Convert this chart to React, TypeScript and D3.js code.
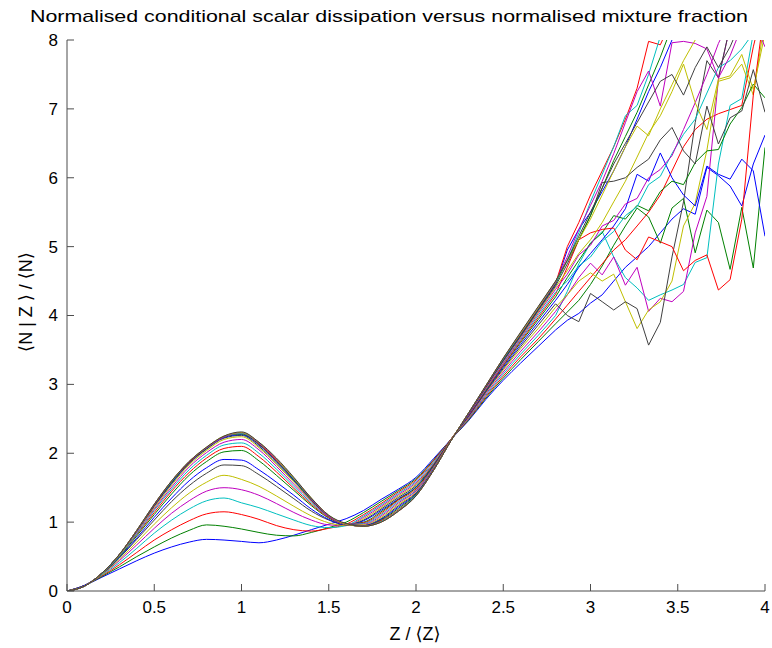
import React from "react";
import * as d3 from "d3";

// Shared abscissa Z/<Z>
const xValues = [
  0, 0.1, 0.2, 0.3, 0.4, 0.5, 0.6, 0.7, 0.8, 0.9, 1.0, 1.1, 1.2, 1.3, 1.4, 1.5, 1.6, 1.7, 1.8, 1.9,
  2.0, 2.1, 2.2, 2.3, 2.4, 2.5, 2.6, 2.7, 2.8,
  2.867, 2.933, 3.0, 3.067, 3.133, 3.2, 3.267, 3.333, 3.4, 3.467, 3.533, 3.6, 3.667, 3.733, 3.8, 3.867, 3.933, 4.0,
];
// index of the last point of the smooth part (x = 2.8)
const smoothEnd = 28;

const s00 = [0, 0.08, 0.20, 0.32, 0.44, 0.55, 0.64, 0.71, 0.75, 0.74, 0.72, 0.70, 0.74, 0.81, 0.89, 0.97, 1.05, 1.17, 1.33, 1.48, 1.65, 1.92, 2.20, 2.47, 2.78, 3.06, 3.31, 3.55, 3.79,
  3.93, 4.03, 4.18, 4.30, 4.50, 4.70, 4.85, 5.00, 5.20, 5.40, 5.55, 5.47, 6.15, 6.03, 5.88, 5.59, 6.20, 6.62];
const s01 = [0, 0.08, 0.21, 0.35, 0.50, 0.64, 0.77, 0.88, 0.96, 0.94, 0.90, 0.85, 0.81, 0.80, 0.85, 0.92, 1.00, 1.14, 1.30, 1.46, 1.63, 1.90, 2.20, 2.48, 2.80, 3.09, 3.36, 3.62, 3.88,
  4.05, 4.22, 4.45, 4.72, 5.02, 5.30, 5.56, 5.43, 5.05, 5.56, 5.70, 4.91, 5.53, 5.35, 4.67, 5.57, 4.69, 6.44];
const s02 = [0, 0.08, 0.22, 0.38, 0.56, 0.74, 0.89, 1.02, 1.12, 1.15, 1.11, 1.04, 0.95, 0.89, 0.87, 0.91, 0.97, 1.11, 1.27, 1.44, 1.61, 1.89, 2.20, 2.49, 2.82, 3.12, 3.40, 3.66, 3.95,
  4.15, 4.35, 4.55, 4.75, 4.95, 5.10, 5.30, 5.50, 5.75, 6.10, 6.45, 6.70, 6.85, 6.93, 6.99, 7.05, 7.90, 8.60];
const s03 = [0, 0.08, 0.23, 0.41, 0.62, 0.84, 1.03, 1.19, 1.31, 1.35, 1.28, 1.21, 1.12, 1.03, 0.95, 0.92, 0.95, 1.09, 1.25, 1.42, 1.59, 1.87, 2.20, 2.50, 2.84, 3.15, 3.44, 3.71, 4.00,
  4.35, 4.75, 5.05, 5.22, 4.85, 4.55, 4.40, 4.22, 4.30, 4.37, 4.45, 4.77, 4.84, 6.20, 7.05, 7.15, 8.10, 8.50];
const s04 = [0, 0.08, 0.24, 0.44, 0.67, 0.91, 1.13, 1.31, 1.45, 1.50, 1.47, 1.39, 1.27, 1.14, 1.03, 0.96, 0.95, 1.07, 1.23, 1.40, 1.57, 1.85, 2.20, 2.51, 2.86, 3.18, 3.48, 3.76, 4.06,
  4.30, 4.55, 4.76, 4.59, 4.85, 4.44, 4.70, 4.06, 4.25, 4.20, 4.35, 5.20, 5.73, 7.43, 8.20, 8.50, 8.80, 9.00];
const s05 = [0, 0.08, 0.24, 0.46, 0.71, 0.97, 1.21, 1.42, 1.58, 1.68, 1.62, 1.52, 1.38, 1.23, 1.09, 0.99, 0.95, 1.05, 1.21, 1.38, 1.55, 1.84, 2.20, 2.52, 2.88, 3.21, 3.52, 3.81, 4.12,
  4.30, 4.50, 4.62, 4.50, 4.60, 4.20, 3.81, 4.08, 4.20, 4.50, 5.30, 5.63, 6.40, 7.40, 7.45, 7.65, 7.20, 8.30];
const s06 = [0, 0.08, 0.25, 0.48, 0.75, 1.03, 1.30, 1.53, 1.71, 1.83, 1.82, 1.69, 1.52, 1.34, 1.16, 1.03, 0.96, 1.03, 1.19, 1.36, 1.53, 1.83, 2.20, 2.53, 2.89, 3.23, 3.55, 3.86, 4.17,
  4.00, 3.91, 4.32, 4.20, 4.08, 4.20, 4.10, 3.57, 3.90, 4.85, 5.65, 6.80, 7.70, 7.45, 8.20, 8.50, 8.80, 9.10];
const s07 = [0, 0.08, 0.25, 0.49, 0.77, 1.07, 1.35, 1.60, 1.79, 1.91, 1.90, 1.76, 1.58, 1.39, 1.19, 1.04, 0.96, 1.02, 1.17, 1.34, 1.51, 1.82, 2.20, 2.54, 2.90, 3.25, 3.58, 3.90, 4.22,
  4.45, 4.70, 4.90, 5.10, 5.30, 5.55, 6.05, 5.95, 6.36, 6.00, 5.75, 5.59, 6.17, 6.05, 5.98, 6.27, 6.10, 5.15];
const s08 = [0, 0.07, 0.25, 0.50, 0.80, 1.11, 1.41, 1.68, 1.88, 2.02, 2.04, 1.89, 1.68, 1.46, 1.24, 1.06, 0.97, 1.00, 1.15, 1.33, 1.50, 1.81, 2.20, 2.55, 2.91, 3.27, 3.61, 3.94, 4.27,
  4.55, 4.80, 5.05, 5.20, 5.45, 5.40, 5.60, 5.52, 5.80, 5.95, 5.90, 6.22, 6.39, 6.41, 6.78, 7.02, 7.36, 7.16];
const s09 = [0, 0.07, 0.25, 0.51, 0.82, 1.14, 1.45, 1.72, 1.93, 2.07, 2.10, 1.95, 1.73, 1.49, 1.26, 1.07, 0.97, 0.99, 1.13, 1.32, 1.48, 1.80, 2.20, 2.55, 2.92, 3.28, 3.63, 3.97, 4.31,
  4.70, 5.10, 5.20, 5.25, 5.27, 4.95, 4.81, 5.14, 5.07, 5.00, 4.65, 4.80, 4.88, 4.37, 4.52, 5.40, 7.20, 8.50];
const s10 = [0, 0.07, 0.25, 0.51, 0.83, 1.17, 1.48, 1.76, 1.97, 2.12, 2.15, 2.00, 1.77, 1.52, 1.28, 1.08, 0.97, 0.98, 1.11, 1.30, 1.46, 1.79, 2.19, 2.56, 2.93, 3.30, 3.65, 4.00, 4.34,
  4.50, 4.72, 4.85, 5.08, 5.22, 5.45, 5.58, 5.90, 6.02, 6.35, 6.63, 6.85, 7.23, 7.60, 7.70, 7.87, 8.10, 8.40];
const s11 = [0, 0.07, 0.26, 0.52, 0.85, 1.19, 1.51, 1.80, 2.01, 2.16, 2.20, 2.05, 1.81, 1.55, 1.30, 1.08, 0.97, 0.97, 1.09, 1.28, 1.45, 1.78, 2.19, 2.56, 2.94, 3.31, 3.67, 4.03, 4.38,
  4.60, 4.88, 5.02, 5.30, 5.38, 5.62, 5.70, 6.00, 6.12, 6.32, 6.70, 7.09, 7.50, 7.95, 8.30, 8.60, 8.90, 9.20];
const s12 = [0, 0.07, 0.26, 0.52, 0.86, 1.21, 1.54, 1.83, 2.04, 2.20, 2.24, 2.08, 1.84, 1.58, 1.31, 1.09, 0.97, 0.96, 1.07, 1.26, 1.43, 1.77, 2.19, 2.57, 2.95, 3.33, 3.69, 4.05, 4.41,
  4.65, 4.90, 5.10, 5.35, 5.65, 5.95, 6.30, 6.65, 6.90, 7.25, 7.65, 7.09, 6.70, 7.43, 7.48, 7.79, 7.28, 8.10];
const s13 = [0, 0.07, 0.26, 0.53, 0.87, 1.23, 1.56, 1.85, 2.06, 2.22, 2.26, 2.10, 1.86, 1.60, 1.32, 1.09, 0.97, 0.95, 1.05, 1.24, 1.42, 1.76, 2.18, 2.57, 2.96, 3.34, 3.70, 4.07, 4.43,
  4.75, 5.10, 5.45, 5.93, 5.95, 6.00, 6.15, 6.27, 6.55, 6.73, 6.39, 6.20, 7.04, 6.49, 6.87, 6.97, 7.57, 6.95];
const s14 = [0, 0.07, 0.26, 0.53, 0.87, 1.24, 1.57, 1.86, 2.07, 2.23, 2.27, 2.12, 1.88, 1.61, 1.33, 1.09, 0.97, 0.95, 1.04, 1.22, 1.41, 1.76, 2.18, 2.57, 2.96, 3.35, 3.71, 4.08, 4.45,
  4.95, 5.25, 5.50, 5.80, 6.10, 6.45, 6.85, 7.25, 7.60, 8.00, 8.40, 8.80, 9.20, 9.60, 10.0, 10.4, 10.8, 11.2];
const s15 = [0, 0.07, 0.26, 0.53, 0.88, 1.25, 1.58, 1.87, 2.07, 2.24, 2.28, 2.13, 1.89, 1.62, 1.33, 1.09, 0.97, 0.94, 1.03, 1.20, 1.40, 1.75, 2.18, 2.58, 2.97, 3.36, 3.72, 4.09, 4.46,
  4.80, 5.10, 5.45, 5.85, 6.25, 6.60, 6.95, 7.35, 7.75, 8.20, 8.60, 9.00, 9.40, 9.80, 10.2, 10.6, 11.0, 11.4];
const s16 = [0, 0.07, 0.26, 0.53, 0.88, 1.25, 1.59, 1.87, 2.08, 2.24, 2.29, 2.14, 1.90, 1.63, 1.34, 1.09, 0.97, 0.94, 1.02, 1.18, 1.39, 1.75, 2.18, 2.58, 2.97, 3.37, 3.73, 4.10, 4.47,
  5.00, 5.35, 5.75, 6.10, 6.45, 6.85, 7.30, 7.98, 7.93, 8.30, 8.60, 8.90, 9.20, 9.50, 9.80, 10.1, 10.4, 10.7];
const s17 = [0, 0.07, 0.26, 0.53, 0.88, 1.26, 1.59, 1.88, 2.08, 2.24, 2.29, 2.15, 1.91, 1.63, 1.34, 1.09, 0.97, 0.94, 1.01, 1.17, 1.39, 1.75, 2.18, 2.58, 2.98, 3.37, 3.74, 4.11, 4.48,
  4.80, 5.20, 5.65, 6.05, 6.45, 6.90, 7.05, 7.50, 8.05, 8.40, 8.80, 9.20, 9.60, 10.0, 10.4, 10.8, 11.2, 11.6];
const s18 = [0, 0.07, 0.26, 0.53, 0.88, 1.26, 1.60, 1.88, 2.08, 2.24, 2.30, 2.15, 1.91, 1.64, 1.34, 1.09, 0.97, 0.94, 1.00, 1.16, 1.38, 1.75, 2.18, 2.58, 2.98, 3.38, 3.75, 4.12, 4.49,
  4.85, 5.25, 5.60, 5.95, 6.35, 6.80, 7.25, 7.55, 7.04, 7.96, 7.98, 7.95, 7.87, 7.45, 7.77, 8.20, 8.30, 7.90];
const s19 = [0, 0.07, 0.26, 0.53, 0.88, 1.26, 1.60, 1.88, 2.09, 2.25, 2.30, 2.16, 1.92, 1.64, 1.35, 1.10, 0.97, 0.94, 1.00, 1.16, 1.38, 1.75, 2.18, 2.58, 2.98, 3.38, 3.75, 4.12, 4.50,
  4.80, 5.10, 5.40, 5.75, 6.10, 6.45, 6.75, 6.61, 7.00, 7.35, 7.70, 8.00, 8.30, 8.60, 8.90, 9.20, 9.50, 9.80];
const s20 = [0, 0.07, 0.26, 0.53, 0.88, 1.26, 1.60, 1.88, 2.09, 2.25, 2.31, 2.16, 1.93, 1.65, 1.35, 1.10, 0.98, 0.94, 1.00, 1.16, 1.38, 1.75, 2.18, 2.58, 2.98, 3.38, 3.76, 4.13, 4.50,
  4.80, 5.15, 5.50, 5.85, 6.20, 6.50, 6.80, 7.10, 7.40, 7.50, 7.20, 7.60, 7.90, 7.60, 7.90, 8.30, 8.60, 8.90];

const seriesList = [s00, s01, s02, s03, s04, s05, s06, s07, s08, s09, s10, s11, s12, s13, s14, s15, s16, s17, s18, s19, s20];

// MATLAB default line colour cycle
const colorCycle = ["#0000FF", "#008000", "#FF0000", "#00BFBF", "#BF00BF", "#BFBF00", "#404040"];

const xTickValues = [0, 0.5, 1, 1.5, 2, 2.5, 3, 3.5, 4];
const yTickValues = [0, 1, 2, 3, 4, 5, 6, 7, 8];

const titleText = "Normalised conditional scalar dissipation versus normalised mixture fraction";
const xLabelText = "Z / \u27E8Z\u27E9";
const yLabelText = "\u27E8N | Z \u27E9 / \u27E8N\u27E9";

const W = 772;
const H = 648;
const plot = { left: 67, right: 765, top: 40, bottom: 591 };
const FONT = "'Liberation Sans', Arial, 'DejaVu Sans', sans-serif";

export default function App() {
  const x = d3.scaleLinear().domain([0, 4]).range([plot.left, plot.right]);
  const y = d3.scaleLinear().domain([0, 8]).range([plot.bottom, plot.top]);
  const smoothLine = d3
    .line<[number, number]>()
    .x((d) => x(d[0]))
    .y((d) => y(d[1]))
    .curve(d3.curveMonotoneX);
  const rawLine = d3
    .line<[number, number]>()
    .x((d) => x(d[0]))
    .y((d) => y(d[1]));
  const tickLen = 7;
  const axisColor = "#4d4d4d";

  return (
    <svg
      width={W}
      height={H}
      style={{ position: "absolute", left: 0, top: 0, background: "#fff" }}
      xmlns="http://www.w3.org/2000/svg"
    >
      <rect x={0} y={0} width={W} height={H} fill="#fff" />
      <defs>
        <clipPath id="plotClip">
          <rect x={plot.left} y={plot.top} width={plot.right - plot.left} height={plot.bottom - plot.top} />
        </clipPath>
      </defs>

      <g clipPath="url(#plotClip)">
        {seriesList.map((s, i) => {
          const pts: [number, number][] = s.map((v, k) => [xValues[k], v]);
          const head = pts.slice(0, smoothEnd + 1);
          const tail = pts.slice(smoothEnd);
          const col = colorCycle[i % colorCycle.length];
          return (
            <g key={i}>
              <path d={smoothLine(head) || ""} fill="none" stroke={col} strokeWidth={1} />
              <path d={rawLine(tail) || ""} fill="none" stroke={col} strokeWidth={1} strokeLinejoin="miter" />
            </g>
          );
        })}
      </g>

      {/* axes */}
      <line x1={plot.left} x2={plot.right} y1={plot.bottom} y2={plot.bottom} stroke={axisColor} strokeWidth={1} />
      <line x1={plot.left} x2={plot.left} y1={plot.top} y2={plot.bottom} stroke={axisColor} strokeWidth={1} />

      {xTickValues.map((t) => (
        <g key={"xt" + t}>
          <line x1={x(t)} x2={x(t)} y1={plot.bottom} y2={plot.bottom - tickLen} stroke={axisColor} strokeWidth={1} />
          <text
            x={x(t)}
            y={plot.bottom + 22}
            textAnchor="middle"
            fontFamily={FONT}
            fontSize={17}
            fill="#000"
          >
            {String(t)}
          </text>
        </g>
      ))}

      {yTickValues.map((t) => (
        <g key={"yt" + t}>
          <line x1={plot.left} x2={plot.left + tickLen} y1={y(t)} y2={y(t)} stroke={axisColor} strokeWidth={1} />
          <text
            x={plot.left - 9}
            y={y(t)}
            dy="0.35em"
            textAnchor="end"
            fontFamily={FONT}
            fontSize={17}
            fill="#000"
          >
            {String(t)}
          </text>
        </g>
      ))}

      <text
        x={389}
        y={22}
        textAnchor="middle"
        fontFamily={FONT}
        fontSize={17}
        textLength={718}
        lengthAdjust="spacingAndGlyphs"
        fill="#000"
      >
        {titleText}
      </text>

      <text x={415} y={640} textAnchor="middle" fontFamily={FONT} fontSize={18} fill="#000">
        {xLabelText}
      </text>

      <text
        transform={`translate(32, 302) rotate(-90)`}
        textAnchor="middle"
        fontFamily={FONT}
        fontSize={18}
        fill="#000"
      >
        {yLabelText}
      </text>
    </svg>
  );
}
